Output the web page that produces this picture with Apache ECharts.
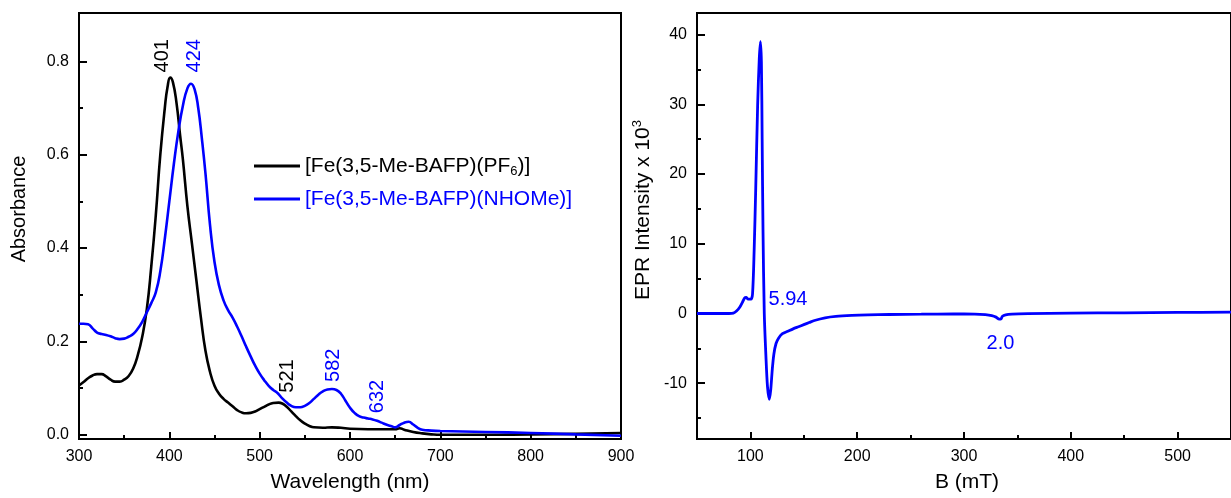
<!DOCTYPE html>
<html>
<head>
<meta charset="utf-8">
<script src="https://cdn.jsdelivr.net/npm/echarts@6/dist/echarts.min.js"></script>
<style>
html,body{margin:0;padding:0;background:#fff;}
#chart{width:1231px;height:498px;}
</style>
</head>
<body>
<div id="chart"></div>
<script>
// ---------- UV-vis data ----------
const wlBlack = [300,305,310,315,320,325,330,335,340,345,350,355,360,365,370,375,380,385,390,395,398,401,404,408,412,415,420,425,430,435,440,445,450,455,460,465,470,475,480,485,490,495,500,505,510,515,521,525,530,535,540,545,550,555,560,570,580,590,600,620,640,650,655,660,670,680,690,700,750,800,850,900];
const absBlack = [0.106,0.113,0.121,0.127,0.130,0.130,0.125,0.118,0.114,0.114,0.118,0.126,0.142,0.170,0.210,0.268,0.360,0.470,0.600,0.700,0.745,0.765,0.755,0.710,0.640,0.590,0.490,0.410,0.330,0.250,0.180,0.135,0.105,0.088,0.077,0.069,0.061,0.053,0.048,0.046,0.047,0.050,0.055,0.060,0.065,0.068,0.069,0.067,0.060,0.050,0.040,0.031,0.024,0.019,0.016,0.015,0.016,0.015,0.013,0.012,0.012,0.012,0.014,0.011,0.006,0.003,0.001,0.000,0.000,0.001,0.002,0.004];

const wlBlue = [300,305,310,315,320,325,330,335,340,345,350,355,360,365,370,375,380,385,390,395,400,405,410,415,420,424,428,432,436,440,445,450,455,460,465,470,475,480,485,490,495,500,505,510,515,520,525,530,535,540,545,550,555,560,565,570,575,580,585,590,595,600,605,610,615,620,625,630,635,640,645,650,655,660,665,670,675,680,690,700,750,800,850,900];
const absBlue = [0.238,0.238,0.237,0.228,0.219,0.216,0.214,0.211,0.207,0.205,0.206,0.210,0.216,0.227,0.242,0.262,0.282,0.305,0.350,0.420,0.500,0.580,0.650,0.705,0.742,0.752,0.740,0.700,0.635,0.560,0.450,0.370,0.320,0.288,0.267,0.251,0.232,0.211,0.189,0.168,0.148,0.131,0.117,0.105,0.096,0.089,0.078,0.069,0.062,0.059,0.059,0.062,0.068,0.077,0.086,0.093,0.097,0.098,0.096,0.088,0.073,0.058,0.047,0.040,0.037,0.035,0.033,0.030,0.026,0.022,0.019,0.016,0.021,0.026,0.028,0.022,0.015,0.011,0.009,0.008,0.006,0.004,0.001,-0.002];

const nameBlack = '[Fe(3,5-Me-BAFP)(PF6)]';
const nameBlue = '[Fe(3,5-Me-BAFP)(NHOMe)]';

// peak annotations: [x, y, text]
const peakLabelsBlack = [[392.7,0.812,'401'],[530.3,0.126,'521']];
const peakLabelsBlue = [[427.4,0.812,'424'],[581.3,0.149,'582'],[630,0.082,'632']];

const uvYTicks = [0,0.2,0.4,0.6,0.8];
const uvYMinor = [0.1,0.3,0.5,0.7];

// ---------- EPR data ----------
const eprB = [50,70,80,84,87,90,92.5,94.5,96,98,100.5,102,103.5,105,106.8,108.3,109.4,110.3,111,111.8,113,114.5,116,117.7,119,120.5,122,124,126.5,130,135,140,145,150,155,160,170,180,195,210,230,260,290,310,320,326,330,333,334.5,336,339,345,360,400,450,500,550];
const eprI = [0,0,0,0.05,0.35,0.9,1.6,2.2,2.3,2.05,2.05,2.8,9,18,30,36.5,39,36,25,12,0,-6,-10.5,-12.3,-11,-8,-5.8,-4.3,-3.5,-2.9,-2.55,-2.2,-1.9,-1.6,-1.3,-1.0,-0.62,-0.42,-0.28,-0.2,-0.14,-0.1,-0.07,-0.08,-0.16,-0.3,-0.52,-0.82,-0.8,-0.4,-0.2,-0.1,-0.03,0.05,0.1,0.15,0.2];
const eprLabels = [[135.2,2.0,'5.94'],[334.2,-4.3,'2.0']];

const eprXTicks = [100,200,300,400,500];
const eprXMinor = [150,250,350,450];
const eprYTicks = [-10,0,10,20,30,40];
const eprYMinor = [-15,-5,5,15,25,35];

// ---------- chart ----------
const FONT = 'Liberation Sans, Arial, sans-serif';
const BLUE = '#0000ff';
const pair = (xs, ys) => xs.map((x, i) => [x, ys[i]]);

const axisLineStyle = {show: true, onZero: false, lineStyle: {color: '#000', width: 2}};
const labelStyle = {color: '#000', fontFamily: FONT, fontSize: 16};
const nameStyle = {color: '#000', fontFamily: FONT, fontSize: 21};
const hiddenLine = {show: false, onZero: false};
const annLabel = (color) => ({show: true, position: 'inside', rotate: 90, formatter: p => p.data[2], color: color, opacity: 1, fontFamily: FONT, fontSize: 20});

const chart = echarts.init(document.getElementById('chart'), null, {renderer: 'canvas'});

const option = {
  animation: false,
  backgroundColor: '#fff',
  grid: [
    {left: 79, top: 13, width: 542, height: 428.5, show: true, borderColor: '#000', borderWidth: 2, backgroundColor: 'transparent'},
    {left: 697, top: 13, width: 541, height: 428.5, show: true, borderColor: '#000', borderWidth: 2, backgroundColor: 'transparent'}
  ],
  xAxis: [
    {
      type: 'value', gridIndex: 0, min: 300, max: 900, interval: 100,
      axisLine: axisLineStyle,
      axisTick: {show: true, inside: true, length: 7, lineStyle: {color: '#000', width: 2}},
      minorTick: {show: true, splitNumber: 2, length: 4, lineStyle: {color: '#000', width: 2}},
      axisLabel: Object.assign({margin: 10, formatter: v => String(v)}, labelStyle),
      splitLine: {show: false}, minorSplitLine: {show: false},
      name: 'Wavelength (nm)', nameLocation: 'middle', nameGap: 33, nameTextStyle: nameStyle
    },
    {
      type: 'value', gridIndex: 1, min: 50, max: 550,
      axisLine: axisLineStyle,
      axisTick: {show: true, inside: true, length: 7, customValues: eprXTicks, lineStyle: {color: '#000', width: 2}},
      axisLabel: Object.assign({margin: 10, customValues: eprXTicks, formatter: v => String(v)}, labelStyle),
      splitLine: {show: false},
      name: 'B (mT)', nameLocation: 'middle', nameGap: 33,
      nameTextStyle: Object.assign({}, nameStyle, {padding: [0, 0, 0, 6]})
    },
    {
      type: 'value', gridIndex: 1, min: 50, max: 550, position: 'bottom',
      axisLine: hiddenLine,
      axisTick: {show: true, inside: true, length: 4, customValues: eprXMinor, lineStyle: {color: '#000', width: 2}},
      axisLabel: {show: false}, splitLine: {show: false}
    }
  ],
  yAxis: [
    {
      type: 'value', gridIndex: 0, min: -0.009, max: 0.9035,
      axisLine: axisLineStyle,
      axisTick: {show: true, inside: true, length: 8, customValues: uvYTicks, lineStyle: {color: '#000', width: 2}},
      axisLabel: Object.assign({margin: 10, customValues: uvYTicks, formatter: v => v.toFixed(1)}, labelStyle),
      splitLine: {show: false},
      name: 'Absorbance', nameLocation: 'middle', nameGap: 50, nameRotate: 90,
      nameTextStyle: Object.assign({}, nameStyle, {fontSize: 20, padding: [0, 0, 0, 34]})
    },
    {
      type: 'value', gridIndex: 0, min: -0.009, max: 0.9035, position: 'left',
      axisLine: hiddenLine,
      axisTick: {show: true, inside: true, length: 4, customValues: uvYMinor, lineStyle: {color: '#000', width: 2}},
      axisLabel: {show: false}, splitLine: {show: false}
    },
    {
      type: 'value', gridIndex: 1, min: -18, max: 43.1,
      axisLine: axisLineStyle,
      axisTick: {show: true, inside: true, length: 8, customValues: eprYTicks, lineStyle: {color: '#000', width: 2}},
      axisLabel: Object.assign({margin: 10, customValues: eprYTicks, formatter: v => String(v)}, labelStyle),
      splitLine: {show: false},
      name: '{m|EPR Intensity x 10}{s|3}', nameLocation: 'middle', nameGap: 41, nameRotate: 90,
      nameTextStyle: Object.assign({}, nameStyle, {
        padding: [0, 0, 0, 32],
        rich: {
          m: {color: '#000', fontFamily: FONT, fontSize: 21, lineHeight: 25},
          s: {color: '#000', fontFamily: FONT, fontSize: 13, lineHeight: 25, verticalAlign: 'top', padding: [0, 0, 8, 0]}
        }
      })
    },
    {
      type: 'value', gridIndex: 1, min: -18, max: 43.1, position: 'left',
      axisLine: hiddenLine,
      axisTick: {show: true, inside: true, length: 4, customValues: eprYMinor, lineStyle: {color: '#000', width: 2}},
      axisLabel: {show: false}, splitLine: {show: false}
    }
  ],
  legend: [
    {
      data: [{name: nameBlack}],
      orient: 'vertical', left: 254, top: 154, padding: 0,
      icon: 'rect', itemWidth: 46, itemHeight: 3,
      formatter: () => '{t|[Fe(3,5-Me-BAFP)(PF}{s|6}{t|)]}',
      textStyle: {
        color: '#000', fontFamily: FONT, fontSize: 21, lineHeight: 24,
        rich: {
          t: {color: '#000', fontFamily: FONT, fontSize: 21, lineHeight: 24},
          s: {color: '#000', fontFamily: FONT, fontSize: 13, lineHeight: 24, verticalAlign: 'bottom'}
        }
      },
      selectedMode: false
    },
    {
      data: [{name: nameBlue}],
      orient: 'vertical', left: 254, top: 187, padding: 0,
      icon: 'rect', itemWidth: 46, itemHeight: 3,
      textStyle: {color: BLUE, fontFamily: FONT, fontSize: 21, lineHeight: 24},
      selectedMode: false
    }
  ],
  series: [
    {
      name: nameBlack, type: 'line', xAxisIndex: 0, yAxisIndex: 0,
      data: pair(wlBlack, absBlack), showSymbol: false, symbol: 'none',
      smooth: 0.5,
      lineStyle: {color: '#000', width: 2.6}, itemStyle: {color: '#000'}, z: 3
    },
    {
      name: nameBlue, type: 'line', xAxisIndex: 0, yAxisIndex: 0,
      data: pair(wlBlue, absBlue), showSymbol: false, symbol: 'none',
      smooth: 0.5,
      lineStyle: {color: BLUE, width: 2.6}, itemStyle: {color: BLUE}, z: 3
    },
    {
      type: 'scatter', xAxisIndex: 0, yAxisIndex: 0, data: peakLabelsBlack,
      symbolSize: 2, itemStyle: {color: 'rgba(0,0,0,0)'}, silent: true, z: 5,
      label: annLabel('#000')
    },
    {
      type: 'scatter', xAxisIndex: 0, yAxisIndex: 0, data: peakLabelsBlue,
      symbolSize: 2, itemStyle: {color: 'rgba(0,0,0,0)'}, silent: true, z: 5,
      label: annLabel(BLUE)
    },
    {
      type: 'line', xAxisIndex: 1, yAxisIndex: 2,
      data: pair(eprB, eprI), showSymbol: false, symbol: 'none',
      smooth: 0.3,
      lineStyle: {color: BLUE, width: 2.8}, itemStyle: {color: BLUE}, z: 3
    },
    {
      type: 'scatter', xAxisIndex: 1, yAxisIndex: 2, data: eprLabels,
      symbolSize: 2, itemStyle: {color: 'rgba(0,0,0,0)'}, silent: true, z: 5,
      label: {show: true, position: 'inside', formatter: p => p.data[2], color: BLUE, opacity: 1, fontFamily: FONT, fontSize: 20}
    }
  ]
};
chart.setOption(option);
</script>
</body>
</html>
